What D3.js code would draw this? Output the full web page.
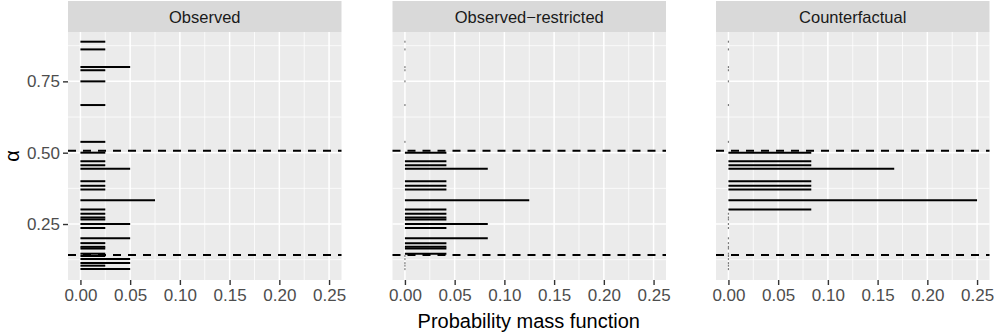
<!DOCTYPE html>
<html>
<head>
  <meta charset="utf-8">
  <title>PMF of alpha by scenario</title>
  <script src="https://d3js.org/d3.v7.min.js"></script>
  <style>
    body { margin: 0; background: #fff; }
    text { font-family: "Liberation Sans", Arial, Helvetica, sans-serif; }
  </style>
</head>
<body>
  <script>
    // alpha values (shared by all three panels)
    const alphaValues = [0.889, 0.862, 0.800, 0.789, 0.750, 0.667, 0.538,
      0.500, 0.470, 0.456, 0.444, 0.400, 0.384, 0.371, 0.333, 0.301,
      0.286, 0.273, 0.266, 0.250, 0.236, 0.200, 0.183, 0.170, 0.164, 0.146,
      0.138, 0.127, 0.113, 0.104, 0.092];

    // probability mass per alpha, one array per panel
    const observedPmf = [0.025, 0.025, 0.050, 0.025, 0.025, 0.025, 0.025,
      0.025, 0.025, 0.025, 0.050, 0.025, 0.025, 0.025, 0.075, 0.025,
      0.025, 0.025, 0.025, 0.050, 0.025, 0.050, 0.025, 0.025, 0.025, 0.025,
      0.025, 0.050, 0.050, 0.025, 0.050];
    const restrictedPmf = [0, 0, 0, 0, 0, 0, 0,
      0.0417, 0.0417, 0.0417, 0.0833, 0.0417, 0.0417, 0.0417, 0.125, 0.0417,
      0.0417, 0.0417, 0.0417, 0.0833, 0.0417, 0.0833, 0.0417, 0.0417, 0.0417, 0.0417,
      0, 0, 0, 0, 0];
    const counterfactualPmf = [0, 0, 0, 0, 0, 0, 0,
      0.0833, 0.0833, 0.0833, 0.1667, 0.0833, 0.0833, 0.0833, 0.25, 0.0833,
      0, 0, 0, 0, 0, 0, 0, 0, 0, 0,
      0, 0, 0, 0, 0];

    const panelNames = ["Observed", "Observed\u2212restricted", "Counterfactual"];
    const panelPmfs = [observedPmf, restrictedPmf, counterfactualPmf];

    // restriction bounds (dashed lines)
    const boundValues = [0.507, 0.141];

    const xTicks = [0, 0.05, 0.10, 0.15, 0.20, 0.25];
    const xMinor = [0.025, 0.075, 0.125, 0.175, 0.225];
    const yTicks = [0.25, 0.50, 0.75];
    const yMinor = [0.125, 0.375, 0.625, 0.875];

    const width = 994, height = 335;
    const panelLefts = [68, 392.5, 716];
    const panelW = 273.5;
    const stripTop = 1, stripH = 31;
    const panelTop = 32, panelBottom = 280;
    const tickFont = 17;

    const svg = d3.select("body").append("svg")
      .attr("width", width)
      .attr("height", height);

    const y = d3.scaleLinear()
      .domain([0.0538, 0.923])
      .range([panelBottom, panelTop]);

    panelNames.forEach(function(name, p) {
      const left = panelLefts[p];
      const x = d3.scaleLinear()
        .domain([-0.0125, 0.2625])
        .range([left, left + panelW]);

      const g = svg.append("g");

      // strip
      g.append("rect")
        .attr("x", left).attr("y", stripTop)
        .attr("width", panelW).attr("height", stripH)
        .attr("fill", "#d9d9d9");
      g.append("text")
        .attr("x", left + panelW / 2)
        .attr("y", stripTop + stripH / 2 + 6)
        .attr("text-anchor", "middle")
        .attr("font-size", 16.5)
        .attr("fill", "#1a1a1a")
        .text(name);

      // panel background
      g.append("rect")
        .attr("x", left).attr("y", panelTop)
        .attr("width", panelW).attr("height", panelBottom - panelTop)
        .attr("fill", "#ebebeb");

      // grid lines
      g.selectAll(".yminor").data(yMinor).enter().append("line")
        .attr("x1", left).attr("x2", left + panelW)
        .attr("y1", d => y(d)).attr("y2", d => y(d))
        .attr("stroke", "#fff").attr("stroke-width", 0.75);
      g.selectAll(".xminor").data(xMinor).enter().append("line")
        .attr("x1", d => x(d)).attr("x2", d => x(d))
        .attr("y1", panelTop).attr("y2", panelBottom)
        .attr("stroke", "#fff").attr("stroke-width", 0.75);
      g.selectAll(".ymajor").data(yTicks).enter().append("line")
        .attr("x1", left).attr("x2", left + panelW)
        .attr("y1", d => y(d)).attr("y2", d => y(d))
        .attr("stroke", "#fff").attr("stroke-width", 1.5);
      g.selectAll(".xmajor").data(xTicks).enter().append("line")
        .attr("x1", d => x(d)).attr("x2", d => x(d))
        .attr("y1", panelTop).attr("y2", panelBottom)
        .attr("stroke", "#fff").attr("stroke-width", 1.5);

      // pmf segments
      const rows = alphaValues.map((a, i) => ({ alpha: a, pmf: panelPmfs[p][i] }));
      g.selectAll(".seg").data(rows.filter(d => d.pmf > 0)).enter().append("line")
        .attr("x1", x(0)).attr("x2", d => x(d.pmf))
        .attr("y1", d => y(d.alpha)).attr("y2", d => y(d.alpha))
        .attr("stroke", "#000").attr("stroke-width", 2);

      // zero mass shows up as a tiny grey mark at 0
      g.selectAll(".zero").data(rows.filter(d => d.pmf === 0)).enter().append("rect")
        .attr("x", x(0) - 0.6).attr("y", d => y(d.alpha) - 1)
        .attr("width", 1.2).attr("height", 2)
        .attr("fill", "#7a7a7a");

      // dashed bounds
      g.selectAll(".bound").data(boundValues).enter().append("line")
        .attr("x1", left).attr("x2", left + panelW)
        .attr("y1", d => y(d)).attr("y2", d => y(d))
        .attr("stroke", "#000").attr("stroke-width", 2)
        .attr("stroke-dasharray", "8,7");

      // x axis
      const xAxis = g.append("g")
        .attr("transform", "translate(0," + panelBottom + ")")
        .call(d3.axisBottom(x).tickValues(xTicks).tickFormat(d3.format(".2f"))
          .tickSize(5).tickSizeOuter(0).tickPadding(4));
      xAxis.select(".domain").remove();
      xAxis.selectAll("line").attr("stroke", "#333").attr("stroke-width", 1.4);
      xAxis.selectAll("text").attr("fill", "#4d4d4d").attr("font-size", tickFont)
        .attr("font-family", "Liberation Sans, Arial, sans-serif");

      // y axis only on first panel
      if (p === 0) {
        const yAxis = g.append("g")
          .attr("transform", "translate(" + left + ",0)")
          .call(d3.axisLeft(y).tickValues(yTicks).tickFormat(d3.format(".2f"))
            .tickSize(5).tickSizeOuter(0).tickPadding(3));
        yAxis.select(".domain").remove();
        yAxis.selectAll("line").attr("stroke", "#333").attr("stroke-width", 1.4);
        yAxis.selectAll("text").attr("fill", "#4d4d4d").attr("font-size", tickFont)
          .attr("font-family", "Liberation Sans, Arial, sans-serif");
      }
    });

    // axis titles
    svg.append("text")
      .attr("x", (panelLefts[0] + panelLefts[2] + panelW) / 2)
      .attr("y", 328)
      .attr("text-anchor", "middle")
      .attr("font-size", 20)
      .attr("fill", "#000")
      .text("Probability mass function");

    svg.append("text")
      .attr("transform", "translate(19," + ((panelTop + panelBottom) / 2) + ") rotate(-90)")
      .attr("text-anchor", "middle")
      .attr("font-size", 20)
      .attr("fill", "#000")
      .text("\u03b1");
  </script>
</body>
</html>
